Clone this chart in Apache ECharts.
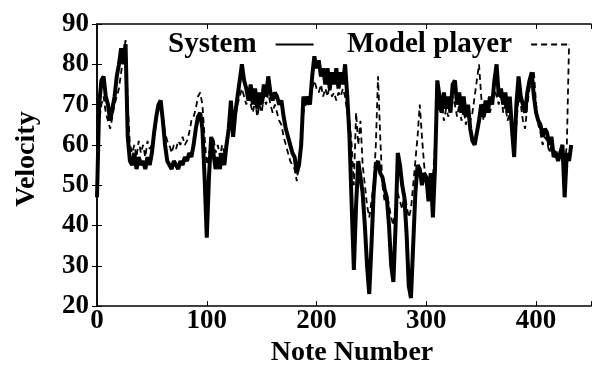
<!DOCTYPE html>
<html>
<head>
<meta charset="utf-8">
<script src="https://cdn.jsdelivr.net/npm/echarts@6/dist/echarts.min.js"></script>
<style>
  html, body { margin: 0; padding: 0; background: #fff; }
  #chart { width: 594px; height: 372px; }
</style>
</head>
<body>
<div id="chart"></div>
<script>
// note number / velocity
const seriesNames = ['System', 'Model player'];

const systemCurve = [
  [0,47],[2,70],[4,76],[6,77],[8,72],[10,70],[12,66],[14,69],[16,72],[18,77],[20,80],[22,84],[24,80],[26,85],[28,62],
  [30,56],[32,55],[34,58],[36,54],[38,57],[40,55],[42,56],[44,54],[46,57],[48,55],[50,58],
  [52,63],[54,67],[56,70],[58,71],[60,66],[62,60],[64,56],
  [66,55],[68,54],[70,56],[72,55],[74,54],[76,56],[78,55],[80,57],[82,56],[84,58],[86,57],[88,60],
  [90,64],[92,67],[94,68],[96,64],[98,52],[100,37],
  [102,52],[104,62],[106,58],[108,54],[110,57],[112,54],[114,58],[116,55],[118,60],[120,64],
  [122,71],[124,62],[126,68],[128,72],[130,76],
  [132,80],[134,76],[136,74],[138,71],[140,75],[142,70],[144,74],[146,69],[148,73],[150,70],[152,75],[154,72],[156,77],
  [158,73],[160,71],[162,73],[164,72],[166,70],[168,71],[170,67],[172,64],[174,62],[176,60],[178,58],[180,57],[182,53],[184,55],[186,60],[188,72],
  [190,70],[192,72],[194,70],[196,77],[198,82],[200,79],[202,81],[204,77],[206,79],[208,75],[210,79],[212,74],[214,78],[216,75],[218,79],[220,74],[222,78],[224,75],[226,80],[228,72],[230,62],
  [232,45],[234,29],[236,45],[238,56],[240,52],[242,48],[244,40],[246,30],[248,23],[250,35],[252,48],[254,55],[256,56],[258,53],[260,52],
  [262,49],[264,47],[266,40],[268,30],[270,26],[272,40],[274,58],[276,55],[278,50],[280,47],[282,38],[284,25],[286,22],[288,35],[290,48],
  [292,55],[294,54],[296,50],[298,53],[300,52],[302,46],[304,53],[306,42],[308,55],[310,76],
  [312,72],[314,68],[316,73],[318,69],[320,72],[322,68],[324,75],[326,76],[328,70],[330,73],[332,68],[334,72],[336,67],[338,70],[340,64],[342,61],[344,60],
  [346,63],[348,66],[350,70],[352,67],[354,71],[356,68],[358,72],[360,70],[362,76],[364,80],[366,72],[368,74],[370,70],[372,73],[374,68],[376,72],[378,64],[380,57],
  [382,70],[384,77],[386,72],[388,70],[390,68],[392,73],[394,76],[396,78],[398,72],[400,68],[402,66],[404,65],[406,62],[408,64],[410,63],
  [412,60],[414,62],[416,57],[418,58],[420,56],[422,58],[424,60],[426,47],[428,58],[430,56],[432,60]
];

const modelCurve = [
  [0,62],[2,66],[4,70],[6,72],[8,68],[10,66],[12,64],[14,67],[16,70],[18,72],[20,74],[22,78],[24,82],[26,86],[28,70],
  [30,60],[32,58],[34,60],[36,57],[38,61],[40,58],[42,60],[44,57],[46,61],[48,59],[50,60],
  [52,62],[54,66],[56,69],[58,70],[60,67],[62,63],[64,61],[66,60],[68,58],[70,60],[72,59],[74,61],[76,60],[78,62],[80,60],
  [82,61],[84,63],[86,66],[88,67],[90,69],[92,72],[94,73],[96,70],[98,62],[100,55],
  [102,58],[104,60],[106,62],[108,58],[110,60],[112,57],[114,60],[116,58],[118,61],[120,63],
  [122,66],[124,64],[126,67],[128,70],[130,72],[132,74],[134,72],[136,70],[138,72],[140,70],[142,68],[144,71],[146,67],[148,70],[150,68],
  [152,72],[154,70],[156,73],[158,70],[160,68],[162,70],[164,68],[166,66],[168,65],[170,62],[172,60],[174,58],[176,56],[178,55],[180,54],
  [182,51],[184,56],[186,62],[188,68],[190,70],[192,71],[194,72],[196,74],[198,76],[200,74],[202,73],[204,75],[206,72],[208,74],[210,72],
  [212,75],[214,72],[216,73],[218,71],[220,73],[222,72],[224,74],[226,72],[228,68],[230,66],
  [232,60],[234,50],[236,68],[238,60],[240,66],[242,55],[244,50],[246,45],[248,42],[250,46],[252,50],[254,60],[256,77],[258,62],[260,50],
  [262,46],[264,48],[266,45],[268,42],[270,40],[272,45],[274,48],[276,46],[278,44],[280,48],[282,45],[284,42],[286,44],[288,50],[290,56],
  [292,62],[294,70],[296,62],[298,55],[300,50],[302,52],[304,50],[306,52],[308,60],[310,70],
  [312,68],[314,70],[316,66],[318,69],[320,67],[322,70],[324,72],[326,70],[328,67],[330,70],[332,66],[334,69],[336,65],[338,68],[340,66],
  [342,68],[344,72],[346,76],[348,80],[350,72],[352,66],[354,68],[356,70],[358,68],[360,71],[362,74],[364,72],[366,70],[368,73],[370,68],
  [372,70],[374,66],[376,68],[378,62],[380,60],[382,65],[384,72],[386,70],[388,66],[390,64],[392,70],[394,74],[396,76],[398,78],[400,70],
  [402,65],[404,63],[406,60],[408,62],[410,61],[412,58],[414,60],[416,57],[418,59],[420,57],[422,58],[424,60],[426,55],[428,60],[430,85]
];

const xRange = [0, 450];
const yRange = [20, 90];

const font = 'Liberation Serif, Times New Roman, serif';

const chart = echarts.init(document.getElementById('chart'));

const frameAxis = {
  show: true,
  axisLine: { show: true, lineStyle: { color: '#000', width: 1.5 } },
  axisTick: { show: true, inside: true, length: 5, lineStyle: { color: '#000' } },
  axisLabel: { show: false },
  splitLine: { show: false }
};

// one legend per entry so each can sit where the original has it
const legendBase = {
  top: 25,
  align: 'right',
  itemWidth: 38,
  itemHeight: 14,
  itemStyle: { opacity: 0 },
  textStyle: {
    fontFamily: font,
    fontWeight: 'bold',
    fontSize: 29,
    color: '#000',
    padding: [0, 14, 0, 0]
  }
};

chart.setOption({
  animation: false,
  backgroundColor: '#fff',
  grid: { left: 97, right: 1, top: 24, bottom: 49 },
  legend: [
    Object.assign({ data: [seriesNames[0]], left: 163 }, legendBase),
    Object.assign({ data: [seriesNames[1]], left: 342 }, legendBase)
  ],
  xAxis: [{
    type: 'value',
    min: xRange[0],
    max: xRange[1],
    interval: 100,
    name: 'Note Number',
    nameLocation: 'middle',
    nameGap: 20,
    nameTextStyle: { fontFamily: font, fontWeight: 'bold', fontSize: 28, color: '#000', padding: [0, 0, 0, 16] },
    axisLine: { lineStyle: { color: '#000', width: 1.5 } },
    axisTick: { inside: true, length: 5, lineStyle: { color: '#000' } },
    axisLabel: {
      fontFamily: font, fontWeight: 'bold', fontSize: 27, color: '#000', margin: 1,
      formatter: v => (v > 400 ? '' : v)
    },
    splitLine: { show: false }
  }, Object.assign({ type: 'value', position: 'top', min: xRange[0], max: xRange[1], interval: 100 }, frameAxis)],
  yAxis: [{
    type: 'value',
    min: yRange[0],
    max: yRange[1],
    interval: 10,
    name: 'Velocity',
    nameLocation: 'middle',
    nameGap: 56,
    nameTextStyle: { fontFamily: font, fontWeight: 'bold', fontSize: 28, color: '#000', padding: [0, 0, 0, 12] },
    axisLine: { lineStyle: { color: '#000', width: 1.5 } },
    axisTick: { inside: true, length: 5, lineStyle: { color: '#000' } },
    axisLabel: { fontFamily: font, fontWeight: 'bold', fontSize: 27, color: '#000', margin: 8 },
    splitLine: { show: false }
  }, Object.assign({ type: 'value', position: 'right', min: yRange[0], max: yRange[1], interval: 10 }, frameAxis)],
  series: [{
    name: seriesNames[0],
    type: 'line',
    data: systemCurve,
    showSymbol: false,
    symbol: 'none',
    lineStyle: { color: '#000', width: 4, type: 'solid' },
    itemStyle: { color: '#000' }
  }, {
    name: seriesNames[1],
    type: 'line',
    data: modelCurve,
    showSymbol: false,
    symbol: 'none',
    lineStyle: { color: '#000', width: 1.8, type: [6, 4] },
    itemStyle: { color: '#000' }
  }]
});
</script>
</body>
</html>
